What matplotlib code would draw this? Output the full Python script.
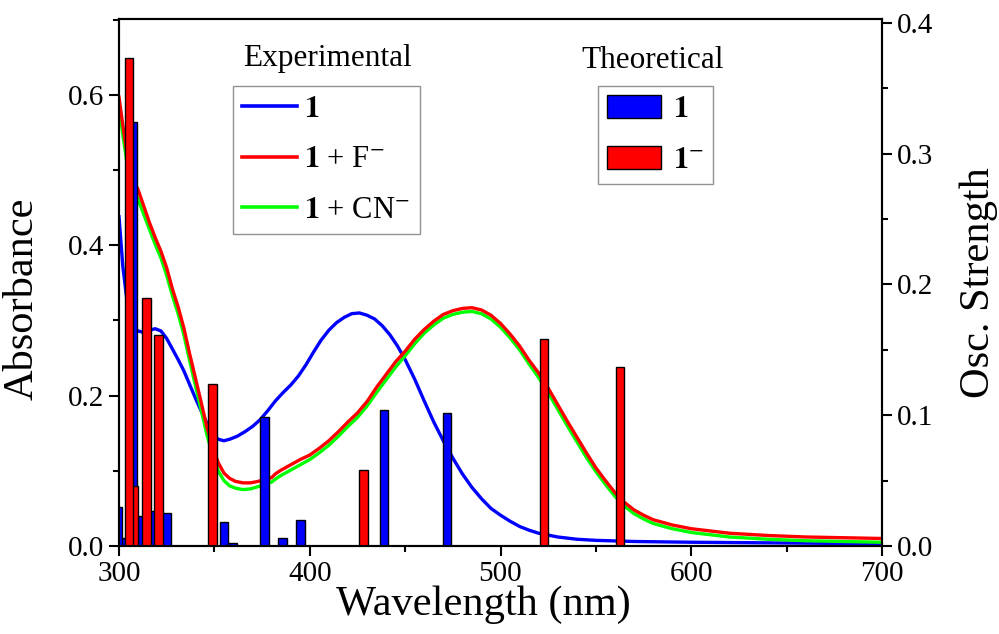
import numpy as np
import matplotlib
matplotlib.use("Agg")
import matplotlib.pyplot as plt
from matplotlib.patches import Patch
from matplotlib.lines import Line2D
from matplotlib.ticker import MultipleLocator, FormatStrFormatter

plt.rcParams['font.family'] = ['Liberation Serif', 'DejaVu Serif']
plt.rcParams['mathtext.fontset'] = 'stix'

# experimental spectra (absorbance)
wl_1 = [300, 302, 304, 306, 308, 310, 313, 316, 319, 322, 325, 328, 331, 334, 337,
        340, 343, 346, 349, 352, 355, 358, 362, 366, 370, 374, 378, 382, 386, 390,
        394, 398, 402, 406, 410, 414, 418, 422, 426, 430, 434, 438, 442, 446, 450,
        455, 460, 465, 470, 475, 480, 485, 490, 495, 500, 505, 510, 515, 520, 530,
        540, 550, 570, 600, 650, 700]
abs_1 = [0.438, 0.372, 0.330, 0.302, 0.290, 0.286, 0.284, 0.287, 0.289, 0.286, 0.276,
         0.262, 0.248, 0.233, 0.215, 0.197, 0.180, 0.164, 0.150, 0.142, 0.140, 0.142,
         0.146, 0.152, 0.159, 0.168, 0.180, 0.193, 0.204, 0.214, 0.226, 0.241, 0.258,
         0.274, 0.287, 0.297, 0.304, 0.309, 0.310, 0.307, 0.302, 0.293, 0.281, 0.266,
         0.248, 0.222, 0.193, 0.165, 0.140, 0.117, 0.096, 0.078, 0.063, 0.050, 0.041,
         0.033, 0.026, 0.021, 0.017, 0.012, 0.009, 0.0075, 0.006, 0.005, 0.004, 0.003]

wl_ion = [300, 302, 304, 306, 308, 310, 313, 316, 319, 322, 325, 328, 331, 334, 337,
          340, 343, 346, 349, 352, 355, 358, 361, 365, 369, 373, 377, 380, 382, 385,
          390, 395, 400, 405, 410, 415, 420, 425, 430, 435, 440, 445, 450, 455, 460,
          465, 470, 475, 480, 485, 490, 495, 500, 505, 510, 515, 520, 525, 530, 535,
          540, 545, 550, 555, 560, 565, 570, 575, 580, 590, 600, 610, 620, 640, 660,
          680, 700]
abs_F = [0.597, 0.560, 0.525, 0.497, 0.485, 0.474, 0.452, 0.430, 0.410, 0.392, 0.370,
         0.342, 0.318, 0.290, 0.256, 0.224, 0.192, 0.159, 0.132, 0.111, 0.097, 0.090,
         0.086, 0.084, 0.084, 0.086, 0.089, 0.091, 0.096, 0.101, 0.108, 0.115, 0.121,
         0.130, 0.140, 0.152, 0.165, 0.177, 0.192, 0.211, 0.228, 0.245, 0.259, 0.275,
         0.288, 0.299, 0.308, 0.313, 0.316, 0.317, 0.314, 0.307, 0.296, 0.282, 0.266,
         0.247, 0.230, 0.210, 0.188, 0.166, 0.145, 0.124, 0.104, 0.087, 0.071, 0.058,
         0.048, 0.041, 0.035, 0.028, 0.023, 0.020, 0.017, 0.014, 0.012, 0.011, 0.010]
abs_CN = [0.585, 0.547, 0.513, 0.485, 0.472, 0.461, 0.441, 0.421, 0.401, 0.383, 0.360,
          0.333, 0.309, 0.281, 0.247, 0.214, 0.182, 0.149, 0.121, 0.100, 0.087, 0.080,
          0.077, 0.075, 0.076, 0.079, 0.083, 0.085, 0.089, 0.094, 0.101, 0.108, 0.115,
          0.124, 0.134, 0.146, 0.159, 0.171, 0.186, 0.204, 0.221, 0.238, 0.253, 0.269,
          0.283, 0.294, 0.303, 0.308, 0.311, 0.312, 0.309, 0.302, 0.291, 0.277, 0.261,
          0.242, 0.224, 0.204, 0.182, 0.160, 0.139, 0.118, 0.099, 0.082, 0.066, 0.053,
          0.043, 0.036, 0.030, 0.023, 0.018, 0.015, 0.012, 0.009, 0.007, 0.006, 0.005]

# theoretical transitions (oscillator strength)
th_wl_1 = [303.0, 299.2, 307.2, 312.0, 318.0, 325.0, 355.0, 359.6, 376.3, 385.7,
           395.1, 438.8, 472.1]
th_f_1 = [0.006, 0.030, 0.324, 0.023, 0.027, 0.025, 0.018, 0.002, 0.099, 0.0064,
          0.020, 0.104, 0.102]
th_wl_anion = [307.8, 305.3, 314.4, 320.7, 349.0, 428.1, 522.9, 562.7]
th_f_anion = [0.046, 0.373, 0.190, 0.161, 0.124, 0.0585, 0.158, 0.137]

fig = plt.figure(figsize=(9.99, 6.34), dpi=100)
ax = fig.add_axes([119 / 999, 1 - 546 / 634, 763 / 999, 527 / 634])
ax2 = ax.twinx()

ax.plot(wl_1, abs_1, color='#0000ff', lw=2.4)
ax.plot(wl_ion, abs_CN, color='#00ff00', lw=2.4)
ax.plot(wl_ion, abs_F, color='#ff0000', lw=2.4)

ax2.bar(th_wl_1, th_f_1, width=4.4, color='#0000ff', edgecolor='black', linewidth=1.0)
ax2.bar(th_wl_anion, th_f_anion, width=4.4, color='#ff0000', edgecolor='black', linewidth=1.0)

ax.set_xlim(300, 700)
ax.set_ylim(0, 0.701)
ax2.set_ylim(0, 0.403)

ax.xaxis.set_major_locator(MultipleLocator(100))
ax.xaxis.set_minor_locator(MultipleLocator(50))
ax.yaxis.set_major_locator(MultipleLocator(0.2))
ax.yaxis.set_minor_locator(MultipleLocator(0.1))
ax2.yaxis.set_major_locator(MultipleLocator(0.1))
ax2.yaxis.set_minor_locator(MultipleLocator(0.05))
ax.yaxis.set_major_formatter(FormatStrFormatter('%.1f'))
ax2.yaxis.set_major_formatter(FormatStrFormatter('%.1f'))

for a in (ax, ax2):
    a.tick_params(which='major', direction='out', length=7, width=1.5, labelsize=21)
    a.tick_params(which='minor', direction='out', length=4.5, width=1.5)
    for s in a.spines.values():
        s.set_linewidth(1.5)
ax.tick_params(top=False, which='both')

ax.set_xlabel('Wavelength (nm)', fontsize=30.5)
ax.set_ylabel('Absorbance', fontsize=30.5)
ax2.set_ylabel('Osc. Strength', fontsize=30.5)
ax.xaxis.set_label_coords(0.478, -0.075)
ax.yaxis.set_label_coords(-0.101, 0.47)
ax2.yaxis.set_label_coords(1.102, 0.5)

exp_handles = [Line2D([], [], color='#0000ff', lw=2.6),
               Line2D([], [], color='#ff0000', lw=2.6),
               Line2D([], [], color='#00ff00', lw=2.6)]
exp_labels = [r'$\mathbf{1}$', r'$\mathbf{1}$ + F$^{-}$', r'$\mathbf{1}$ + CN$^{-}$']
leg1 = ax2.legend(exp_handles, exp_labels, loc='upper left', bbox_to_anchor=(0.149, 0.873),
                  borderaxespad=0, fontsize=22, fancybox=False, edgecolor='#777777',
                  handlelength=1.8, handletextpad=0.25, labelspacing=0.7, borderpad=0.3)
leg1.get_frame().set_linewidth(1.0)
ax2.add_artist(leg1)

th_handles = [Patch(facecolor='#0000ff', edgecolor='black'),
              Patch(facecolor='#ff0000', edgecolor='black')]
th_labels = [r'$\mathbf{1}$', r'$\mathbf{1}^{-}$']
leg2 = ax2.legend(th_handles, th_labels, loc='upper left', bbox_to_anchor=(0.628, 0.873),
                  borderaxespad=0, fontsize=22, fancybox=False, edgecolor='#777777',
                  handlelength=1.75, handleheight=0.75, handletextpad=0.4, labelspacing=0.72,
                  borderpad=0.3)
leg2.get_frame().set_linewidth(1.0)

ax.text(0.273, 0.925, 'Experimental', transform=ax.transAxes, ha='center', va='center', fontsize=22.5)
ax.text(0.699, 0.922, 'Theoretical', transform=ax.transAxes, ha='center', va='center', fontsize=22.5)

fig.savefig('out.png', dpi=100)
